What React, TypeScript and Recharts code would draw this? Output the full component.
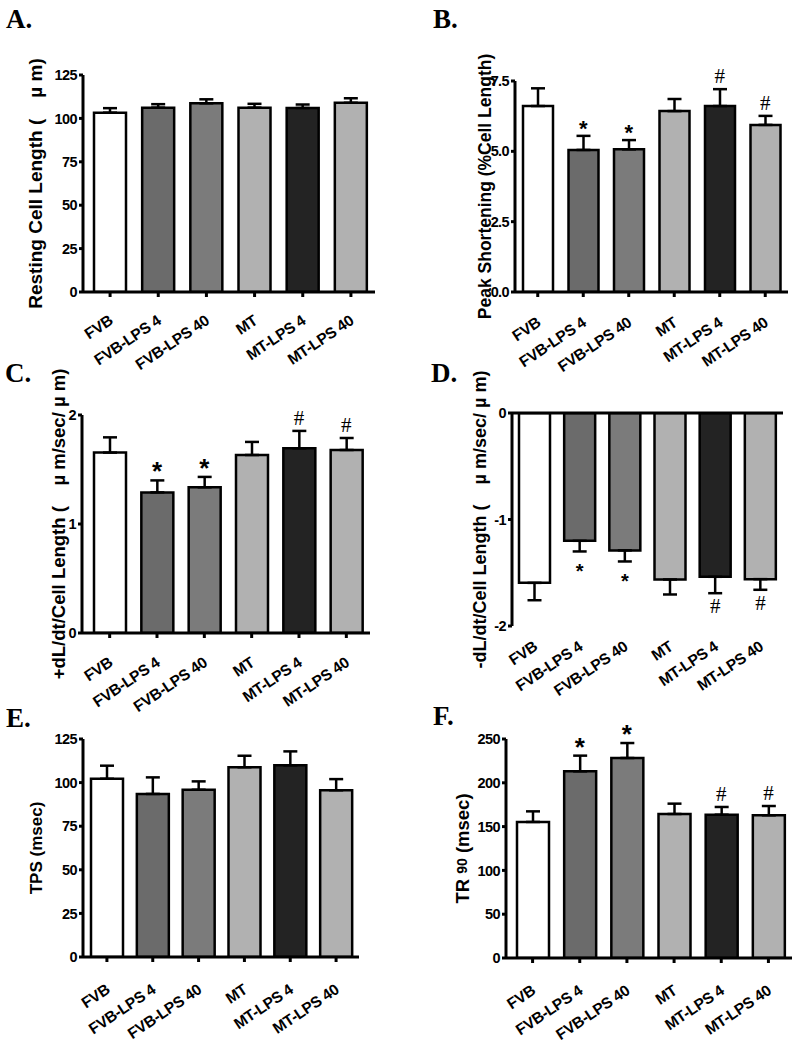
import React from 'react'
import { ComposedChart, Bar, Line, XAxis, YAxis, Cell, ErrorBar, LabelList, Label, ReferenceLine } from 'recharts'

const groups = ['FVB', 'FVB-LPS 4', 'FVB-LPS 40', 'MT', 'MT-LPS 4', 'MT-LPS 40']
const fills = ['#ffffff', '#6b6b6b', '#7b7b7b', '#b1b1b1', '#232323', '#b1b1b1']

// means and SEM
const restingLength = [103.3, 106.2, 108.7, 106.2, 106.0, 109.0]
const restingLengthSem = [2.6, 2.0, 2.3, 2.2, 2.0, 2.6]

const peakShortening = [6.61, 5.05, 5.07, 6.43, 6.61, 5.94]
const peakShorteningSem = [0.63, 0.5, 0.33, 0.43, 0.6, 0.32]

const maxVelocity = [1.655, 1.29, 1.337, 1.633, 1.694, 1.679]
const maxVelocitySem = [0.14, 0.11, 0.095, 0.12, 0.16, 0.11]

const minVelocity = [-1.595, -1.2, -1.29, -1.563, -1.538, -1.56]
const minVelocitySem = [0.163, 0.1, 0.104, 0.141, 0.154, 0.1]

const tps = [102.2, 93.5, 95.9, 108.8, 109.9, 95.6]
const tpsSem = [7.5, 9.5, 4.8, 6.6, 8.0, 6.4]

const tr90 = [155.3, 213.1, 228.3, 164.4, 163.6, 162.9]
const tr90Sem = [12.1, 17.9, 17.1, 11.8, 8.8, 10.6]

const noMarks = ['', '', '', '', '', '']
const lpsMarks = ['', '*', '*', '', '#', '#']

const ticksA = [0, 25, 50, 75, 100, 125]
const ticksB = [0, 2.5, 5, 7.5]
const ticksC = [0, 1, 2]
const ticksD = [-2, -1, 0]
const ticksE = [0, 25, 50, 75, 100, 125]
const ticksF = [0, 50, 100, 150, 200, 250]

const SANS = "'Liberation Sans', Arial, Helvetica, sans-serif"
const SERIF = "'Liberation Serif', 'Times New Roman', serif"

const YW = 70
const MT = 55
const MR = 12
const XH = 100
const LABEL_ANGLE = -34

const buildRows = (values: number[], sems: number[], marks: string[], down = false) =>
  groups.map((name, i) => ({
    name,
    value: values[i],
    err: down ? [sems[i], 0] : [0, sems[i]],
    markY: down ? values[i] - sems[i] : values[i] + sems[i],
    mark: marks[i],
  }))

type PanelProps = {
  rows: ReturnType<typeof buildRows>
  left: number
  right: number
  top: number
  bottom: number
  domain: [number, number]
  ticks: number[]
  decimals: number
  yLabel: React.ReactNode
  labelX: number
  labelSize: number
  barSize: number
  padLeft: number
  labelDy: number
  down?: boolean
  markSize: number
}

const Panel = (p: PanelProps) => {
  const width = p.right - p.left + YW + MR
  const height = p.bottom - p.top + MT + XH
  const chartLeft = p.left - YW
  const chartTop = p.top - MT

  const catTick = (props: any) => {
    const { x, y, payload } = props
    return (
      <g transform={`translate(${x + 4},${y + p.labelDy})`}>
        <text x={0} y={0} textAnchor="end" transform={`rotate(${LABEL_ANGLE})`}
          fontFamily={SANS} fontWeight={700} fontSize={15.5} letterSpacing={-0.3} fill="#000">
          {payload.value}
        </text>
      </g>
    )
  }

  const markLabel = (props: any) => {
    const { x, y, value } = props
    if (!value) return null
    const star = value === '*'
    let by: number
    if (p.down) by = y + (star ? 27 : 20)
    else by = y - (star ? 0 : 6)
    return (
      <text x={x} y={by} textAnchor="middle" fill="#000"
        fontFamily={star ? SANS : SERIF} fontWeight={star ? 700 : 400}
        fontSize={star ? p.markSize : 21}>
        {value}
      </text>
    )
  }

  const yLabel = (props: any) => {
    const vb = props.viewBox
    const lx = p.labelX - chartLeft
    const ly = vb.y + vb.height / 2
    return (
      <text x={lx} y={ly} textAnchor="middle" dominantBaseline="central"
        transform={`rotate(-90 ${lx} ${ly})`}
        fontFamily={SANS} fontWeight={700} fontSize={p.labelSize} fill="#000">
        {p.yLabel}
      </text>
    )
  }

  return (
    <div style={{ position: 'absolute', left: chartLeft, top: chartTop, width, height }}>
      <ComposedChart width={width} height={height} data={p.rows}
        margin={{ top: MT, right: MR, left: 0, bottom: 0 }}>
        <XAxis dataKey="name" height={XH} interval={0} padding={{ left: p.padLeft, right: 0 }}
          tick={catTick} tickSize={5} tickMargin={0}
          axisLine={p.down ? false : { stroke: '#000', strokeWidth: 3 }}
          tickLine={p.down ? false : { stroke: '#000', strokeWidth: 3 }} />
        <YAxis type="number" width={YW} domain={p.domain} ticks={p.ticks} interval={0}
          allowDataOverflow tickSize={4} tickMargin={2}
          tickFormatter={(v: number) => v.toFixed(p.decimals)}
          tick={{ fill: '#000', fontFamily: SANS, fontWeight: 700, fontSize: 14.5, letterSpacing: -0.6 }}
          axisLine={{ stroke: '#000', strokeWidth: 3 }}
          tickLine={{ stroke: '#000', strokeWidth: 3 }}>
          <Label content={yLabel} />
        </YAxis>
        <Bar dataKey="value" barSize={p.barSize} stroke="#000" strokeWidth={2.5} isAnimationActive={false}>
          {p.rows.map((r, i) => <Cell key={r.name} fill={fills[i]} />)}
          <ErrorBar dataKey="err" width={7} stroke="#000" strokeWidth={2.5} direction="y" />
        </Bar>
        <Line dataKey="markY" stroke="none" dot={false} activeDot={false} legendType="none" isAnimationActive={false}>
          <LabelList dataKey="mark" content={markLabel} />
        </Line>
        {p.down && <ReferenceLine y={0} stroke="#000" strokeWidth={3} />}
      </ComposedChart>
    </div>
  )
}

const titles = [
  { text: 'A.', x: 6, y: 28 },
  { text: 'B.', x: 433, y: 28 },
  { text: 'C.', x: 5, y: 382 },
  { text: 'D.', x: 431, y: 382 },
  { text: 'E.', x: 6, y: 727 },
  { text: 'F.', x: 433, y: 725 },
]

const nb = '\u00a0\u00a0\u00a0\u00a0'

export default function App() {
  return (
    <div style={{ position: 'absolute', left: 0, top: 0, width: 800, height: 1050, background: '#fff' }}>
      <Panel rows={buildRows(restingLength, restingLengthSem, noMarks)}
        left={83} right={375} top={75} bottom={292} domain={[0, 125]} ticks={ticksA} decimals={0}
        yLabel={`Resting Cell Length (${nb}\u00b5 m)`} labelX={35} labelSize={19} barSize={32} padLeft={3}
        labelDy={26} markSize={22} />
      <Panel rows={buildRows(peakShortening, peakShorteningSem, lpsMarks)}
        left={515} right={788} top={81} bottom={292} domain={[0, 7.5]} ticks={ticksB} decimals={1}
        yLabel="Peak Shortening (%Cell Length)" labelX={485} labelSize={17.5} barSize={30} padLeft={0}
        labelDy={28} markSize={22} />
      <Panel rows={buildRows(maxVelocity, maxVelocitySem, lpsMarks)}
        left={82} right={370} top={415} bottom={633} domain={[0, 2]} ticks={ticksC} decimals={0}
        yLabel={`+dL/dt/Cell Length (${nb}\u00b5 m/sec/ \u00b5 m)`} labelX={58} labelSize={18.5} barSize={32} padLeft={4}
        labelDy={27} markSize={26} />
      <Panel rows={buildRows(minVelocity, minVelocitySem, lpsMarks, true)} down
        left={512} right={783} top={413} bottom={626} domain={[-2, 0]} ticks={ticksD} decimals={0}
        yLabel={`-dL/dt/Cell Length (${nb}\u00b5 m/sec/ \u00b5 m)`} labelX={480} labelSize={18} barSize={31} padLeft={0}
        labelDy={18} markSize={20} />
      <Panel rows={buildRows(tps, tpsSem, noMarks)}
        left={83} right={359} top={739} bottom={957} domain={[0, 125]} ticks={ticksE} decimals={0}
        yLabel="TPS (msec)" labelX={36} labelSize={17} barSize={32} padLeft={1}
        labelDy={30} markSize={22} />
      <Panel rows={buildRows(tr90, tr90Sem, lpsMarks)}
        left={506} right={792} top={739} bottom={958} domain={[0, 250]} ticks={ticksF} decimals={0}
        yLabel={<>TR <tspan fontSize={14}>90</tspan> (msec)</>} labelX={462} labelSize={18.5} barSize={32} padLeft={3}
        labelDy={30} markSize={26} />
      <svg width={800} height={1050} style={{ position: 'absolute', left: 0, top: 0, pointerEvents: 'none' }}>
        {titles.map(t => (
          <text key={t.text} x={t.x} y={t.y} fontFamily={SERIF} fontWeight={700} fontSize={27} fill="#000">
            {t.text}
          </text>
        ))}
      </svg>
    </div>
  )
}
